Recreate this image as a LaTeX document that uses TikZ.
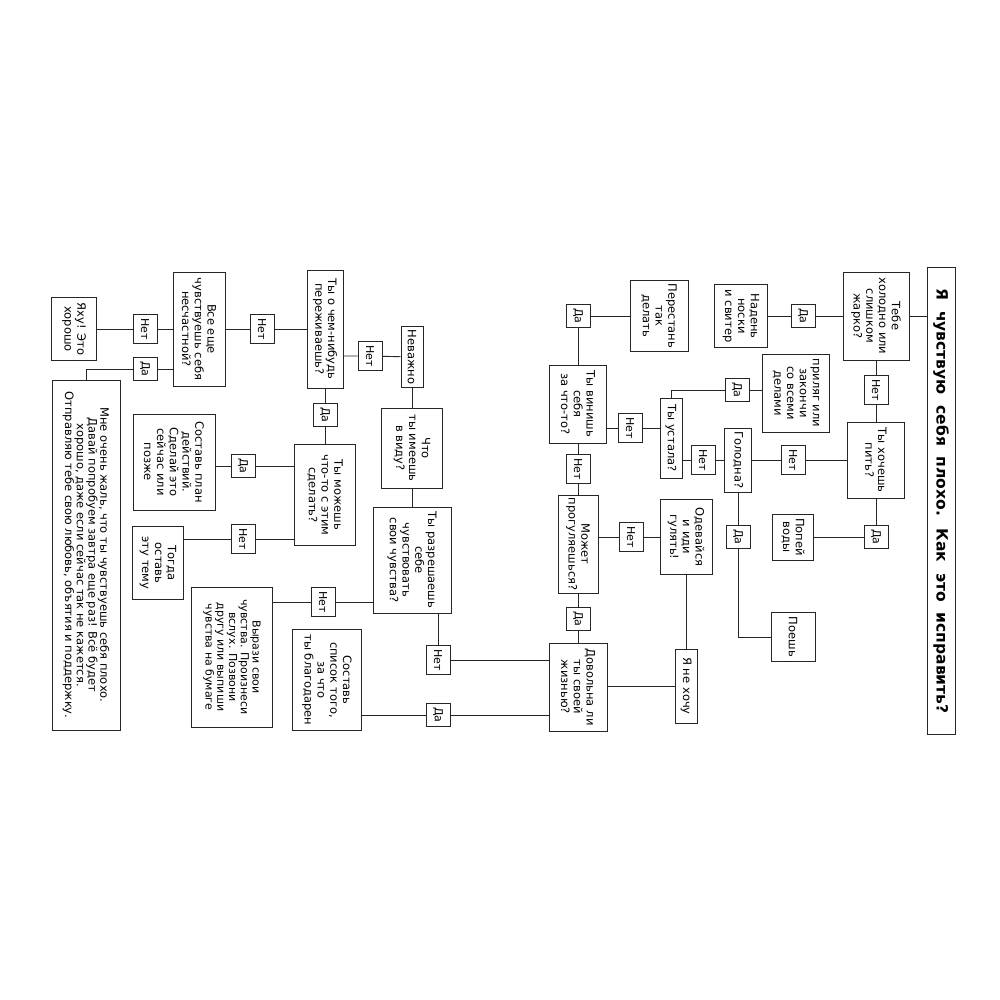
\documentclass[tikz,border=0pt]{standalone}
\usepackage{fontspec}
\setmainfont{DejaVu Sans}
\usepackage{tikz}
\tikzstyle{heading} = [rectangle, draw=black!85, line width=1pt, rotate=-90, align=center, inner sep=0pt, font=\fontsize{15.5}{17}\selectfont\bfseries]
\tikzstyle{box} = [rectangle, draw=black!85, line width=0.9pt, rotate=-90, align=center, inner sep=1pt, font=\fontsize{11.5}{12.8}\selectfont]
\tikzstyle{answer} = [rectangle, draw=black!85, line width=0.9pt, fill=white, rotate=-90, minimum height=24pt, inner xsep=3.5pt, inner ysep=0pt, font=\fontsize{11}{12}\selectfont]
\tikzstyle{conn} = [line width=0.9pt, draw=black!85]

\begin{document}
\begin{tikzpicture}[x=1pt, y=-1pt]
\useasboundingbox (0,0) rectangle (1000,1000);
\node (title) [heading, minimum width=467pt, minimum height=28pt] at (941,501) {Я \ чувствую \ себя \ плохо. \ Как \ это \ исправить?};
\node (tebe) [box, minimum width=88pt, minimum height=66pt] at (876,316) {Тебе\\холодно или\\слишком\\жарко?};
\node (da1) [answer] at (803,316) {Да};
\node (naden) [box, minimum width=63pt, minimum height=53pt] at (741,316) {Надень\\носки\\и свитер};
\node (net1) [answer] at (876,390) {Нет};
\node (pit) [box, minimum width=76pt, minimum height=57pt] at (876,460) {Ты хочешь\\пить?};
\node (da2) [answer] at (876,537) {Да};
\node (popei) [box, minimum width=46pt, minimum height=41pt] at (793,537) {Попей\\воды};
\node (net2) [answer] at (793,460) {Нет};
\node (golodna) [box, minimum width=64pt, minimum height=27pt] at (738,460) {Голодна?};
\node (da3) [answer] at (738,537) {Да};
\node (poesh) [box, minimum width=49pt, minimum height=44pt] at (793,637) {Поешь};
\node (net3) [answer] at (703,460) {Нет};
\node (ustala) [box, minimum width=80pt, minimum height=22pt] at (671,438) {Ты устала?};
\node (da4) [answer] at (737,390) {Да};
\node (prilyag) [box, minimum width=78pt, minimum height=67pt] at (796,393) {приляг или\\закончи\\со всеми\\делами};
\node (net4) [answer] at (630,428) {Нет};
\node (vinish) [box, minimum width=78pt, minimum height=57pt] at (578,404) {Ты винишь\\себя\\за что-то?};
\node (da5) [answer] at (578,316) {Да};
\node (perestan) [box, minimum width=71pt, minimum height=58pt] at (659,316) {Перестань\\так\\делать};
\node (net5) [answer] at (578,469) {Нет};
\node (mozhet) [box, minimum width=98pt, minimum height=40pt] at (578,544) {Может\\прогуляешься?};
\node (net6) [answer] at (631,537) {Нет};
\node (odev) [box, minimum width=75pt, minimum height=52pt] at (686,537) {Одевайся\\и иди\\гулять!};
\node (yane) [box, minimum width=74pt, minimum height=22pt] at (686,686) {Я не хочу};
\node (da6) [answer] at (578,619) {Да};
\node (dovolna) [box, minimum width=88pt, minimum height=58pt] at (578,687) {Довольна ли\\ты своей\\жизнью?};
\node (net7) [answer] at (438,660) {Нет};
\node (da7) [answer] at (438,715) {Да};
\node (spisok) [box, minimum width=101pt, minimum height=69pt] at (327,680) {Составь\\список того,\\за что\\ты благодарен};
\node (razresh) [box, minimum width=106pt, minimum height=78pt] at (412,560) {Ты разрешаешь\\себе\\чувствовать\\свои чувства?};
\node (chto) [box, minimum width=80pt, minimum height=61pt] at (412,448) {Что\\ты имеешь\\в виду?};
\node (nevazhno) [box, minimum width=61pt, minimum height=22pt] at (412,357) {Неважно};
\node (net8) [answer] at (370,356) {Нет};
\node (perezh) [box, minimum width=118pt, minimum height=36pt] at (325,329) {Ты о чем-нибудь\\переживаешь?};
\node (da8) [answer] at (325,415) {Да};
\node (mozhesh) [box, minimum width=101pt, minimum height=61pt] at (325,495) {Ты можешь\\что-то с этим\\сделать?};
\node (da9) [answer] at (243,466) {Да};
\node (plan) [box, minimum width=96pt, minimum height=82pt] at (174,462) {Составь план\\действий.\\Сделай это\\сейчас или\\позже};
\node (net9) [answer] at (243,539) {Нет};
\node (togda) [box, minimum width=73pt, minimum height=51pt] at (158,563) {Тогда\\оставь\\эту тему};
\node (net10) [answer] at (323,602) {Нет};
\node (vyrazi) [box, minimum width=140pt, minimum height=81pt, font=\fontsize{11}{11.7}\selectfont] at (232,657) {Вырази свои\\чувства. Произнеси\\вслух. Позвони\\другу или выпиши\\чувства на бумаге};
\node (net11) [answer] at (262,329) {Нет};
\node (vse) [box, minimum width=114pt, minimum height=52pt] at (199,329) {Все еще\\чувствуешь себя\\несчастной?};
\node (net12) [answer] at (145,329) {Нет};
\node (yahu) [box, minimum width=63pt, minimum height=45pt] at (74,329) {Яху! Это\\хорошо};
\node (da10) [answer] at (145,369) {Да};
\node (big) [box, minimum width=350pt, minimum height=68pt, font=\fontsize{11.5}{11.7}\selectfont] at (86,555) {Мне очень жаль, что ты чувствуешь себя плохо.\\Давай попробуем завтра еще раз! Всё будет\\хорошо, даже если сейчас так не кажется.\\Отправляю тебе свою любовь, объятия и поддержку.};

\draw [conn] (tebe.north) -- (tebe.north -| title.south);
\draw [conn] (tebe) -- (da1) -- (naden);
\draw [conn] (tebe) -- (net1) -- (pit);
\draw [conn] (pit) -- (da2) -- (popei);
\draw [conn] (pit) -- (net2) -- (golodna);
\draw [conn] (golodna) -- (da3) |- (poesh);
\draw [conn] (golodna) -- (net3) -- (net3 -| ustala.north);
\draw [conn] (ustala.west) |- (da4) -- (da4 -| prilyag.south);
\draw [conn] (net4 -| ustala.south) -- (net4) -- (net4 -| vinish.north);
\draw [conn] (vinish) -- (da5) -- (perestan);
\draw [conn] (vinish) -- (net5) -- (mozhet);
\draw [conn] (net6 -| mozhet.north) -- (net6) -- (odev);
\draw [conn] (odev) -- (yane) -- (yane -| dovolna.north);
\draw [conn] (mozhet) -- (da6) -- (dovolna);
\draw [conn] (net7 -| dovolna.south) -- (net7) -- (net7 |- razresh.east);
\draw [conn] (da7 -| dovolna.south) -- (da7) -- (da7 -| spisok.north);
\draw [conn] (razresh) -- (chto) -- (nevazhno);
\draw [conn] (nevazhno) -- (net8) -- (net8 -| perezh.north);
\draw [conn] (perezh) -- (da8) -- (mozhesh);
\draw [conn] (da9 -| mozhesh.south) -- (da9) -- (da9 -| plan.north);
\draw [conn] (net9 -| mozhesh.south) -- (net9) -- (net9 -| togda.north);
\draw [conn] (net10 -| razresh.south) -- (net10) -- (net10 -| vyrazi.north);
\draw [conn] (perezh) -- (net11) -- (vse);
\draw [conn] (vse) -- (net12) -- (yahu);
\draw [conn] (da10 -| vse.south) -- (da10) -| (big.west);
\end{tikzpicture}
\end{document}
